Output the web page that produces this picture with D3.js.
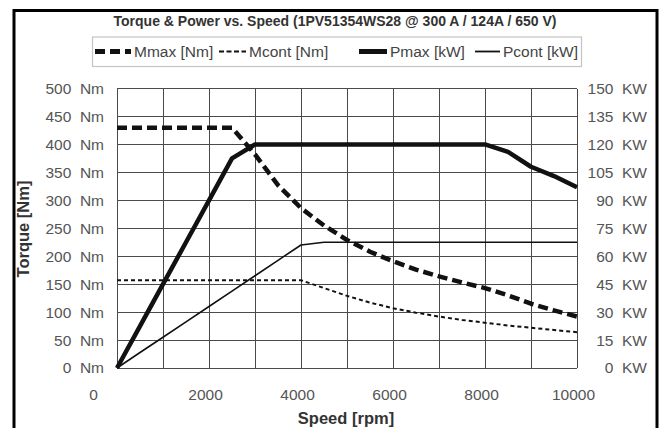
<!DOCTYPE html>
<html>
<head>
<meta charset="utf-8">
<script src="https://cdn.jsdelivr.net/npm/d3@7"></script>
<style>
  html, body { margin: 0; padding: 0; background: #fff; }
  svg { display: block; font-family: "Liberation Sans", Arial, sans-serif; }
</style>
</head>
<body>
<svg id="chart" width="667" height="428"></svg>
<script>
// ---- data ----
const speeds = [0,500,1000,1500,2000,2500,3000,3500,4000,4500,5000,5500,6000,6500,7000,7500,8000,8500,9000,9500,10000];
const mmax   = [430,430,430,430,430,430,382,327,286,255,229,208,191,176,164,153,143,130,115,103,92];
const mcont  = [157,157,157,157,157,157,157,157,157,143,129,117,107,99,92,86,81,76,72,68,64];
const pmax   = [0,22.5,45,67.5,90,112.5,120,120,120,120,120,120,120,120,120,120,120,116,108,103,97];
const pcont  = [0,8.3,16.5,24.8,33,41.3,49.5,57.8,66,67.5,67.5,67.5,67.5,67.5,67.5,67.5,67.5,67.5,67.5,67.5,67.5];
const xTicks = [0,2000,4000,6000,8000,10000];
const torqueTicks = [0,50,100,150,200,250,300,350,400,450,500];
const powerTicks  = [0,15,30,45,60,75,90,105,120,135,150];
const titleText = "Torque & Power vs. Speed (1PV51354WS28 @ 300 A / 124A / 650 V)";
const legendLabels = ["Mmax [Nm]", "Mcont [Nm]", "Pmax [kW]", "Pcont [kW]"];

// ---- layout ----
const svg = d3.select("#chart");
const L = 117, R = 577, T = 88.5, B = 368;
const x = d3.scaleLinear().domain([0, 10000]).range([L, R]);
const yT = d3.scaleLinear().domain([0, 500]).range([B, T]);
const yP = d3.scaleLinear().domain([0, 150]).range([B, T]);
const FONT = "'Liberation Sans', Arial, sans-serif";

// outer frame
svg.append("rect").attr("x", 14).attr("y", 10.5).attr("width", 643).attr("height", 430)
  .attr("fill", "none").attr("stroke", "#000").attr("stroke-width", 3);

// title
svg.append("text").attr("x", 335).attr("y", 25.5).attr("text-anchor", "middle")
  .attr("font-size", 14).attr("font-weight", "bold").attr("fill", "#333").text(titleText);

// grid
const grid = svg.append("g").attr("stroke", "#4a4a4a").attr("stroke-width", 1).attr("shape-rendering", "crispEdges");
d3.range(0, 10001, 1000).forEach(v => {
  grid.append("line").attr("x1", x(v)).attr("x2", x(v)).attr("y1", T).attr("y2", B);
});
torqueTicks.forEach(v => {
  grid.append("line").attr("x1", L).attr("x2", R).attr("y1", yT(v)).attr("y2", yT(v));
});

// axes
const labelColor = "#555";
const axL = svg.append("g").attr("transform", `translate(${L},0)`)
  .call(d3.axisLeft(yT).tickValues(torqueTicks).tickSize(0).tickPadding(13)
    .tickFormat(d => d + "\u00a0\u00a0Nm"));
const axR = svg.append("g").attr("transform", `translate(${R},0)`)
  .call(d3.axisRight(yP).tickValues(powerTicks).tickSize(0).tickPadding(0)
    .tickFormat(d => d + "\u00a0\u00a0KW"));
axR.selectAll("text").attr("text-anchor", "end").attr("x", 647 - R);
const axB = svg.append("g").attr("transform", `translate(0,${B})`)
  .call(d3.axisBottom(x).tickValues(xTicks).tickSize(0).tickPadding(21).tickFormat(d => d));
axB.selectAll("text").attr("dx", d => d === 0 ? -24 : -4);
[axL, axR, axB].forEach(a => {
  a.select(".domain").remove();
  a.selectAll("text").attr("font-size", 15.5).attr("fill", labelColor).attr("font-family", FONT);
});

// axis titles
svg.append("text").attr("x", 346).attr("y", 423.5).attr("text-anchor", "middle")
  .attr("font-size", 16.5).attr("font-weight", "bold").attr("fill", "#333").text("Speed [rpm]");
svg.append("text").attr("transform", "translate(29,229) rotate(-90)").attr("text-anchor", "middle")
  .attr("font-size", 16.5).attr("font-weight", "bold").attr("fill", "#333").text("Torque [Nm]");

// series
const styles = [
  { data: mmax,  y: yT, w: 4.5, dash: "10,5" },
  { data: mcont, y: yT, w: 2,   dash: "4,3" },
  { data: pmax,  y: yP, w: 4.5, dash: null },
  { data: pcont, y: yP, w: 1.6, dash: null }
];
styles.forEach(s => {
  const line = d3.line().x((d, i) => x(speeds[i])).y(d => s.y(d));
  svg.append("path").datum(s.data).attr("d", line).attr("fill", "none")
    .attr("stroke", "#111").attr("stroke-width", s.w)
    .attr("stroke-dasharray", s.dash).attr("stroke-linejoin", "round");
});

// legend
const lg = svg.append("g");
lg.append("rect").attr("x", 92.5).attr("y", 37).attr("width", 489).attr("height", 29.5)
  .attr("fill", "#fff").attr("stroke", "#c4c4c4").attr("stroke-width", 1.2);
const sampleX = [95, 219, 359, 475];
const sampleW = [36, 27, 28, 25];
const legendStyles = [
  { w: 5,   dash: "10,5" },
  { w: 2,   dash: "5,2.5" },
  { w: 5,   dash: null },
  { w: 1.8, dash: null }
];
legendLabels.forEach((lab, i) => {
  lg.append("line").attr("x1", sampleX[i]).attr("x2", sampleX[i] + sampleW[i])
    .attr("y1", 51.5).attr("y2", 51.5)
    .attr("stroke", "#111").attr("stroke-width", legendStyles[i].w)
    .attr("stroke-dasharray", legendStyles[i].dash);
  lg.append("text").attr("x", sampleX[i] + sampleW[i] + 3).attr("y", 57)
    .attr("font-size", 15.5).attr("fill", "#444").text(lab);
});
</script>
</body>
</html>
